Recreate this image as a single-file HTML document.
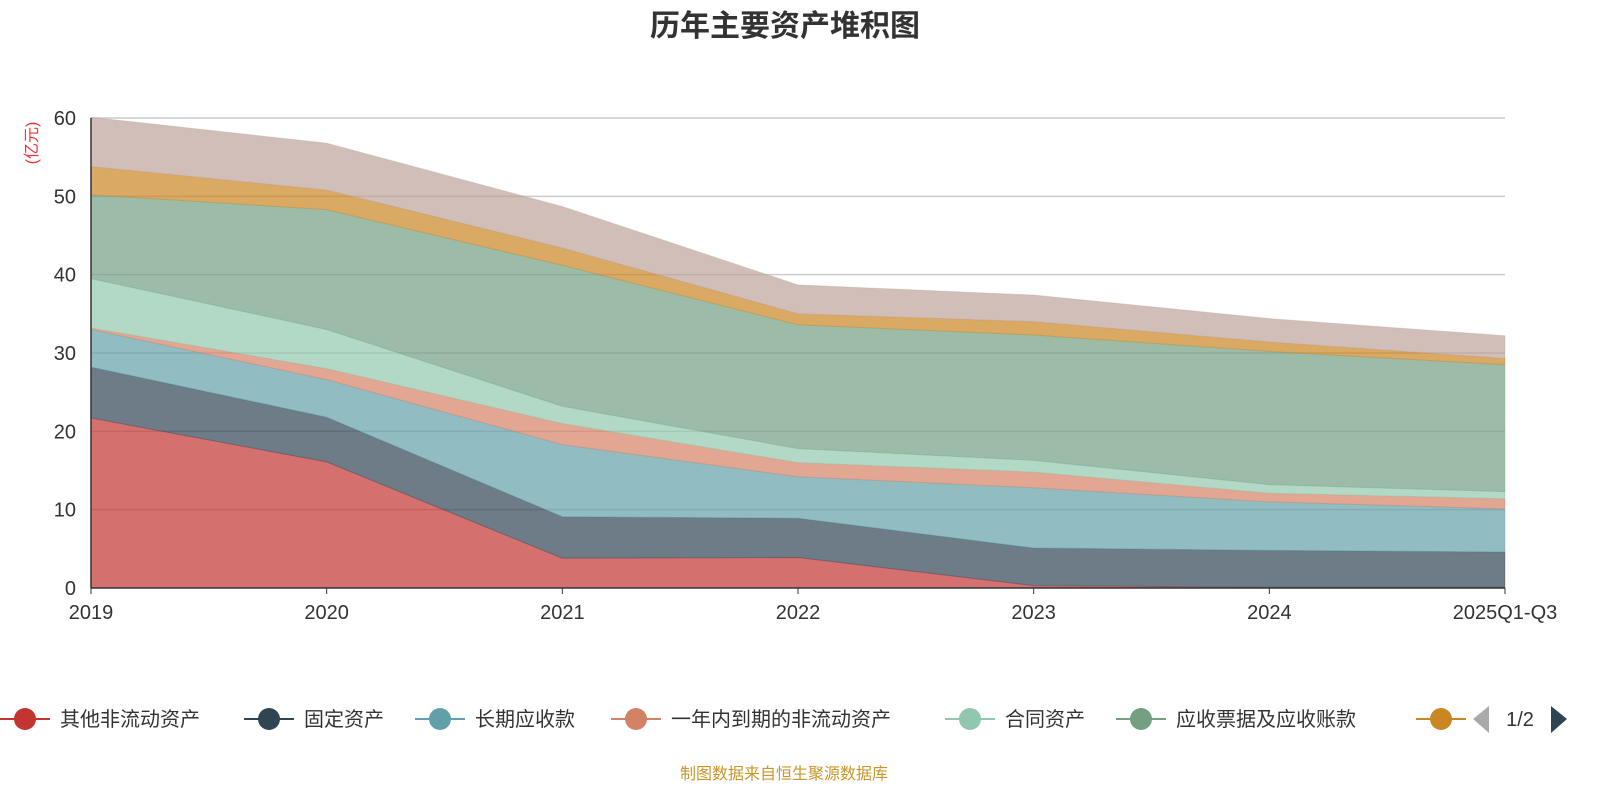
<!DOCTYPE html>
<html><head><meta charset="utf-8">
<style>
body{margin:0;background:#fff;width:1600px;height:800px;overflow:hidden;font-family:"Liberation Sans","Noto Sans CJK SC",sans-serif;}
</style></head>
<body>
<svg id="chart" width="1600" height="800" xmlns="http://www.w3.org/2000/svg" font-family="Liberation Sans, Noto Sans CJK SC, sans-serif">
<text x="785" y="36" text-anchor="middle" font-size="30" font-weight="bold" fill="#333">历年主要资产堆积图</text>
<text transform="translate(37,143) rotate(-90)" text-anchor="middle" font-size="16" fill="#e33">(亿元)</text>
<g id="grid"></g><g id="areas"></g><g id="axes"></g><g id="legend"></g>
<text x="784" y="779" text-anchor="middle" font-size="16" fill="#c8962a">制图数据来自恒生聚源数据库</text>
</svg>
<script>
const categories=["2019","2020","2021","2022","2023","2024","2025Q1-Q3"];
const seriesNames=["其他非流动资产","固定资产","长期应收款","一年内到期的非流动资产","合同资产","应收票据及应收账款","存货","其他"];
const s1=[21.7,16.1,3.8,3.9,0.3,0.1,0.1];
const s2=[6.5,5.7,5.3,5.0,4.8,4.7,4.5];
const s3=[4.8,4.8,9.2,5.3,7.7,6.2,5.5];
const s4=[0.2,1.4,2.7,1.8,2.0,1.1,1.3];
const s5=[6.3,5.0,2.2,1.8,1.5,1.1,0.9];
const s6=[10.7,15.3,18.0,15.8,16.0,17.0,16.2];
const s7=[3.6,2.5,2.2,1.4,1.7,1.2,0.8];
const s8=[6.3,6.0,5.3,3.7,3.4,3.0,2.9];
const yTicks=[0,10,20,30,40,50,60];
const series=[s1,s2,s3,s4,s5,s6,s7,s8];
const colors=["#c23531","#2f4554","#61a0a8","#d48265","#91c7ae","#749f83","#ca8622","#bda29a"];
const NS="http://www.w3.org/2000/svg";
const x0=91,x1=1505,yb=588,yt=118;
const xs=i=>x0+i*(x1-x0)/(categories.length-1);
const ys=v=>yb-v*(yb-yt)/60;
function mk(tag,at,parent){const e=document.createElementNS(NS,tag);for(const k in at)e.setAttribute(k,at[k]);parent.appendChild(e);return e;}
const grid=document.getElementById('grid'),axes=document.getElementById('axes'),areas=document.getElementById('areas'),legend=document.getElementById('legend');
yTicks.forEach(t=>{
  if(t>0){const l=mk('line',{x1:x0,x2:x1,y1:ys(t),y2:ys(t),stroke:'#ccc','stroke-width':1.5},grid);
  
  }
  const tx=mk('text',{x:76,y:ys(t)+7,'text-anchor':'end','font-size':20,fill:'#333'},axes);tx.textContent=t;
  
  
});
let cum=categories.map(()=>0);
series.forEach((s,k)=>{
  const lo=cum.slice();const hi=cum.map((c,i)=>c+s[i]);
  let d='M'+hi.map((v,i)=>xs(i)+','+ys(v)).join('L');
  for(let i=lo.length-1;i>=0;i--)d+='L'+xs(i)+','+ys(lo[i]);
  const p=mk('path',{d:d+'Z',fill:colors[k],'fill-opacity':0.7,stroke:colors[k],'stroke-opacity':0.3},areas);
  
  
  cum=hi;
});
const ax=mk('line',{x1:x0,x2:x1,y1:yb,y2:yb,stroke:'#333','stroke-width':1.5},axes);


const ay=mk('line',{x1:x0,x2:x0,y1:yt,y2:yb,stroke:'#333','stroke-width':1.5},axes);


categories.forEach((c,i)=>{
  const tk=mk('line',{x1:xs(i),x2:xs(i),y1:yb,y2:yb+6,stroke:'#333'},axes);
  
  
  const tx=mk('text',{x:xs(i),y:619,'text-anchor':'middle','font-size':20,fill:'#333'},axes);tx.textContent=c;
  
  
});
const lx=[25,269,440,636,970,1141,1441];
for(let k=0;k<7;k++){
  const g=mk('g',{},legend);
  
  
  mk('line',{x1:lx[k]-25,x2:lx[k]+25,y1:719,y2:719,stroke:colors[k],'stroke-width':2},g);
  mk('circle',{cx:lx[k],cy:719,r:11,fill:colors[k]},g);
  if(k<6){const t=mk('text',{x:lx[k]+35,y:726,'font-size':20,fill:'#333'},g);t.textContent=seriesNames[k];}
}
const prev=mk('path',{d:'M1489,706L1473,719L1489,733Z',fill:'#aaa'},legend);


const pg=mk('text',{x:1520,y:726,'text-anchor':'middle','font-size':20,fill:'#333'},legend);pg.textContent='1/2';


const next=mk('path',{d:'M1551,706L1567,719L1551,733Z',fill:'#2f4554'},legend);


</script>
</body></html>
